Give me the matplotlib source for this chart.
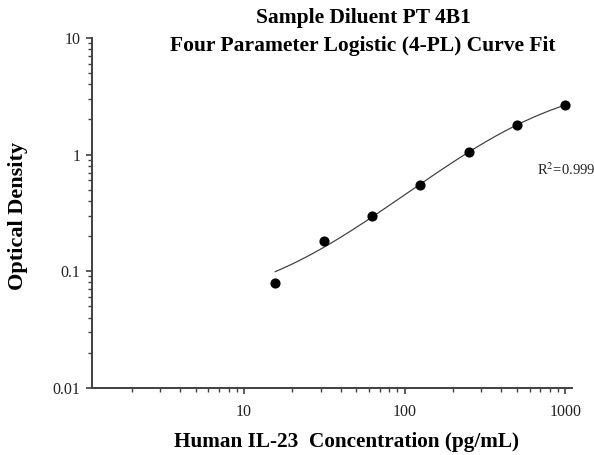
import numpy as np
import matplotlib
matplotlib.use("Agg")
import matplotlib.pyplot as plt
from matplotlib.ticker import LogLocator, FixedLocator, FixedFormatter, NullFormatter

# Data
conc = [15.625, 31.25, 62.5, 125, 250, 500, 1000]
od = [0.079, 0.183, 0.297, 0.546, 1.05, 1.80, 2.66]
x_ticks = [10, 100, 1000]
x_tick_labels = ["10", "100", "1000"]
y_ticks = [0.01, 0.1, 1, 10]
y_tick_labels = ["0.01", "0.1", "1", "10"]
title_lines = ["Sample Diluent PT 4B1", "Four Parameter Logistic (4-PL) Curve Fit"]
r2_text = "R$^2$=0.999"

x = np.array(conc, dtype=float)
y = np.array(od, dtype=float)


def f4pl(p, xx):
    A, B, logC, D = p
    return D + (A - D) / (1.0 + (xx / np.exp(logC)) ** B)


# Levenberg-Marquardt fit of 4PL
p = np.array([0.05, 1.0, np.log(500.0), 5.0])
lam = 1e-2
def sse(pp):
    r = f4pl(pp, x) - y
    return float(np.sum(r * r))
cur = sse(p)
for _ in range(500):
    r = f4pl(p, x) - y
    J = np.zeros((len(x), 4))
    for k in range(4):
        dp = np.zeros(4)
        h = 1e-6 * max(1.0, abs(p[k]))
        dp[k] = h
        J[:, k] = (f4pl(p + dp, x) - f4pl(p - dp, x)) / (2 * h)
    JTJ = J.T @ J
    g = J.T @ r
    try:
        step = -np.linalg.solve(JTJ + lam * np.diag(np.diag(JTJ) + 1e-12), g)
    except np.linalg.LinAlgError:
        break
    newp = p + step
    new = sse(newp)
    if np.isfinite(new) and new < cur:
        p, cur = newp, new
        lam *= 0.3
    else:
        lam *= 10
    if lam > 1e10:
        break

xs = np.logspace(np.log10(conc[0]), np.log10(conc[-1]), 300)
ys = f4pl(p, xs)

serif = ["Liberation Serif", "DejaVu Serif"]

fig = plt.figure(figsize=(5.94, 4.55), dpi=100)
ax = fig.add_axes([92 / 594, 1 - 387.7 / 455, (572 - 92) / 594, (387.7 - 38) / 455])

ax.plot(xs, ys, color="#444444", lw=0.9, zorder=2)
ax.plot(x, y, "o", color="black", ms=6.3, zorder=3)

ax.set_xscale("log")
ax.set_yscale("log")
ax.set_xlim(1.13, 1100)
ax.set_ylim(0.01, 10)

for s in ["top", "right"]:
    ax.spines[s].set_visible(False)
for s in ["left", "bottom"]:
    ax.spines[s].set_color("#404040")
    ax.spines[s].set_linewidth(1.4)

ax.xaxis.set_major_locator(FixedLocator(x_ticks))
ax.xaxis.set_major_formatter(FixedFormatter(x_tick_labels))
ax.xaxis.set_minor_locator(LogLocator(base=10, subs=np.arange(2, 10)))
ax.xaxis.set_minor_formatter(NullFormatter())
ax.yaxis.set_major_locator(FixedLocator(y_ticks))
ax.yaxis.set_major_formatter(FixedFormatter(y_tick_labels))
ax.yaxis.set_minor_locator(LogLocator(base=10, subs=np.arange(2, 10)))
ax.yaxis.set_minor_formatter(NullFormatter())

ax.tick_params(which="major", direction="out", length=4.5, width=1.2, color="#404040",
               labelsize=11.5, pad=4)
ax.tick_params(which="minor", direction="out", length=2.7, width=1.0, color="#404040")
for lbl in ax.get_xticklabels() + ax.get_yticklabels():
    lbl.set_fontfamily(serif)
    lbl.set_color("#222222")
ax.tick_params(axis="x", which="major", pad=7)

fig.text(363 / 594, 1 - 18 / 455, title_lines[0], ha="center", va="center",
         fontsize=15.5, fontweight="bold", family=serif)
fig.text(363 / 594, 1 - 46 / 455, title_lines[1], ha="center", va="center",
         fontsize=15.5, fontweight="bold", family=serif)

fig.text(18 / 594, 1 - 216 / 455, "Optical Density", rotation=90, ha="center", va="center",
         fontsize=16, fontweight="bold", family=serif)
fig.text(346 / 594, 1 - 442 / 455, "Human IL-23  Concentration (pg/mL)", ha="center",
         va="center", fontsize=15.3, fontweight="bold", family=serif)

fig.text(537 / 594, 1 - 170 / 455, r2_text, ha="left", va="center", fontsize=10.5,
         family=serif, color="#222222", math_fontfamily="stix")

fig.savefig("out.png", dpi=100)
